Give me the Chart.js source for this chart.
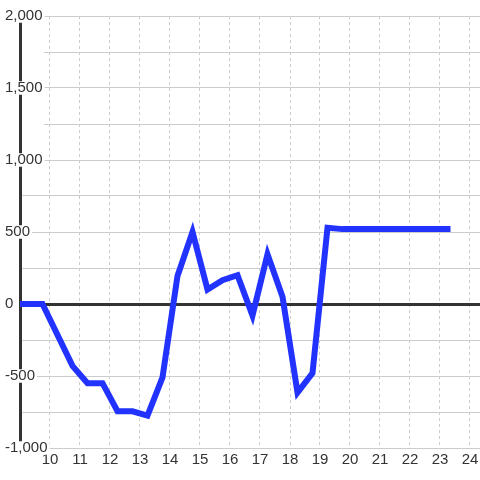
<!DOCTYPE html>
<html>
<head>
<meta charset="utf-8">
<script src="https://cdn.jsdelivr.net/npm/chart.js@4/dist/chart.umd.min.js"></script>
<style>
  html, body { margin: 0; padding: 0; background: #fff; }
  canvas { display: block; }
</style>
</head>
<body>
<canvas id="chart" width="480" height="480"></canvas>
<script>
// values
let xValues = [9, 9.75, 10.75, 11.25, 11.75, 12.25, 12.75, 13.25, 13.75, 14.25, 14.75, 15.25, 15.75,
    16.25, 16.75, 17.25, 17.75, 18.25, 18.75, 19.25, 19.75, 20.25, 20.75, 21.25, 21.75, 22.25, 22.75, 23.25];
let yValues = [0, 0, -430, -550, -550, -745, -745, -775, -510, 195, 500, 100, 165,
    200, -80, 345, 50, -615, -480, 530, 520, 520, 520, 520, 520, 520, 520, 520];
let xTicks = [10, 11, 12, 13, 14, 15, 16, 17, 18, 19, 20, 21, 22, 23, 24];
let yLabelTicks = [-1000, -500, 0, 500, 1000, 1500, 2000];

let textColor = "#333";
let gridColor = "#ccc";

let points = xValues.map((x, i) => ({ x: x, y: yValues[i] }));

function fadedGrid(chart) {
    // upper gridlines start a bit right of the axis
    let g = chart.ctx.createLinearGradient(0, 0, 480, 0);
    g.addColorStop(0, "rgba(204,204,204,0)");
    g.addColorStop(44 / 480, "rgba(204,204,204,0)");
    g.addColorStop(44 / 480, gridColor);
    g.addColorStop(1, gridColor);
    return g;
}

new Chart(document.getElementById("chart"), {
    type: "line",
    data: {
        datasets: [{
            data: points,
            borderColor: "#2233ff",
            borderWidth: 6,
            borderCapStyle: "square",
            borderJoinStyle: "miter",
            pointRadius: 0,
            tension: 0,
            fill: false
        }]
    },
    options: {
        responsive: false,
        animation: false,
        layout: { padding: { top: 16, left: 5, right: 0, bottom: 0 } },
        plugins: { legend: { display: false }, tooltip: { enabled: false } },
        scales: {
            x: {
                type: "linear",
                min: 9,
                max: 9 + 460 / 30,
                afterBuildTicks: scale => { scale.ticks = xTicks.map(v => ({ value: v })); },
                afterFit: scale => { scale.height = 32; scale.paddingLeft = 0; scale.paddingRight = 0; },
                grid: { color: gridColor, lineWidth: 1, drawTicks: false },
                border: { display: false, dash: [3, 3] },
                ticks: {
                    color: textColor,
                    padding: 3,
                    maxRotation: 0,
                    autoSkip: false,
                    font: { family: "Liberation Sans", size: 15 }
                }
            },
            y: {
                min: -1000,
                max: 2000,
                afterFit: scale => { scale.width = 15; },
                grid: {
                    drawTicks: false,
                    color: ctx => {
                        let v = ctx.tick ? ctx.tick.value : null;
                        if (v === 0) return textColor;
                        if (v >= 1250) return fadedGrid(ctx.chart);
                        return gridColor;
                    },
                    lineWidth: ctx => (ctx.tick && ctx.tick.value === 0 ? 3 : 1)
                },
                border: { display: true, color: textColor, width: 3 },
                ticks: {
                    stepSize: 250,
                    autoSkip: false,
                    mirror: true,
                    padding: -15,
                    crossAlign: "near",
                    color: textColor,
                    font: { family: "Liberation Sans", size: 15, lineHeight: 0.9 },
                    callback: v => (yLabelTicks.includes(v) ? v.toLocaleString("en-US") : ""),
                    showLabelBackdrop: ctx => yLabelTicks.includes(ctx.tick.value),
                    backdropColor: "#fff",
                    backdropPadding: { top: 0, bottom: 0, left: 2, right: 2 }
                }
            }
        }
    }
});
</script>
</body>
</html>
